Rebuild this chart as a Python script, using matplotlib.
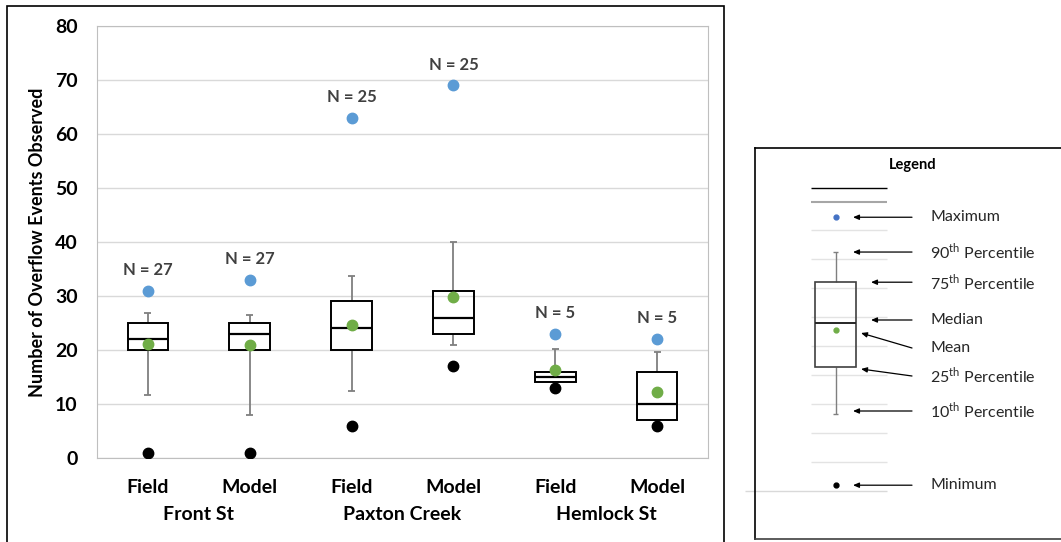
import numpy as np
import matplotlib
matplotlib.use("Agg")
import matplotlib.pyplot as plt
from matplotlib.patches import Rectangle
from matplotlib.transforms import blended_transform_factory

plt.rcParams['font.family'] = ['Lato', 'DejaVu Sans']

# data
categories = ["Field", "Model", "Field", "Model", "Field", "Model"]
groups = ["Front St", "Paxton Creek", "Hemlock St"]
p10 = [11.6, 8.0, 12.4, 20.9, 14.0, 7.0]
q1 = [20, 20, 20, 23, 14, 7]
median = [22, 23, 24, 26, 15, 10]
q3 = [25, 25, 29, 31, 16, 16]
p90 = [26.8, 26.5, 33.7, 40, 20.2, 19.7]
mins = [1, 1, 6, 17, 13, 6]
means = [21.1, 20.9, 24.7, 29.8, 16.3, 12.3]
maxs = [31, 33, 63, 69, 23, 22]
n_obs = [27, 27, 25, 25, 5, 5]

# schematic values for the legend mini box
leg_stats = {"max": 47.2, "p90": 41.2, "q3": 36.0, "median": 29.0,
             "mean": 27.8, "q1": 21.4, "p10": 13.3, "min": 1.0}
leg_grid = [0, 5, 10, 15, 20, 25, 30, 35, 40, 45]

W, H = 1061, 542
BLUE = '#5B9BD5'
GREEN = '#70AD47'
WHISK = '#7f7f7f'

fig = plt.figure(figsize=(W / 100, H / 100), dpi=100)

# outer frame of the chart
fig.add_artist(Rectangle((7 / W, -0.05), (724 - 7) / W, (H - 6) / H + 0.05,
                         transform=fig.transFigure, fill=False,
                         edgecolor='black', lw=1.2))

ax = fig.add_axes([97 / W, (H - 458) / H, (708 - 97) / W, (458 - 26) / H])
x = np.arange(len(categories))
bw = 0.4
cap = 0.035

ax.bar(x, np.array(q3) - np.array(q1), bottom=q1, width=bw, fill=False,
       edgecolor='black', lw=1.4, zorder=3)
ax.hlines(median, x - bw / 2, x + bw / 2, color='black', lw=1.6, zorder=3)
ax.vlines(x, q3, p90, color=WHISK, lw=1.3, zorder=2)
ax.vlines(x, p10, q1, color=WHISK, lw=1.3, zorder=2)
ax.hlines(p90, x - cap, x + cap, color=WHISK, lw=1.3, zorder=2)
ax.hlines(p10, x - cap, x + cap, color=WHISK, lw=1.3, zorder=2)
ax.plot(x, mins, 'o', color='black', ms=7.5, zorder=4)
ax.plot(x, means, 'o', color=GREEN, ms=7.5, zorder=4)
ax.plot(x, maxs, 'o', color=BLUE, ms=7.5, zorder=4)

for xi, m, nn in zip(x, maxs, n_obs):
    ax.annotate("N = %d" % nn, (xi, m), xytext=(0, 15), textcoords='offset points',
                ha='center', va='center', fontsize=12, fontweight='bold',
                color='#404040')

ax.set_xlim(-0.5, len(categories) - 0.5)
ax.set_ylim(0, 80)
ax.set_yticks(np.arange(0, 81, 10))
ax.set_xticks(x)
ax.set_xticklabels(categories)
ax.tick_params(axis='both', length=0, labelsize=14)
ax.tick_params(axis='y', pad=14)
ax.tick_params(axis='x', pad=15)
for lab in ax.get_xticklabels() + ax.get_yticklabels():
    lab.set_fontweight('bold')
ax.yaxis.grid(True, color='#d9d9d9', lw=1)
ax.set_axisbelow(True)
for s in ['top', 'right']:
    ax.spines[s].set_color('#bfbfbf')
    ax.spines[s].set_linestyle((0, (2, 1)))
for s in ['left', 'bottom']:
    ax.spines[s].set_color('#bfbfbf')
ax.set_ylabel("Number of Overflow Events Observed", fontsize=13, fontweight='bold')
ax.yaxis.set_label_coords(-0.084, 0.5)

trans = blended_transform_factory(ax.transData, ax.transAxes)
for i, g in enumerate(groups):
    ax.text(2 * i + 0.5, -0.13, g, transform=trans, ha='center', va='center',
            fontsize=14, fontweight='bold')

# legend panel, x in pixels, y in schematic units
lax = fig.add_axes([755 / W, (H - 539) / H, (1061 - 755) / W, (539 - 148) / H])
lax.set_xlim(755, 1061)
px = 5.8
lax.set_ylim((491 - 539) / px, (491 - 148) / px)
lax.set_xticks([])
lax.set_yticks([])
lax.spines['right'].set_visible(False)
for s in ['left', 'top', 'bottom']:
    lax.spines[s].set_color('black')
    lax.spines[s].set_linewidth(1.2)
lax.spines['bottom'].set_color('#404040')

lax.text(913, (491 - 165) / px, "Legend", ha='center', va='center',
         fontsize=10.5, fontweight='bold')
lax.hlines((491 - 188) / px, 811, 887, color='black', lw=1)
lax.hlines((491 - 202) / px, 811, 887, color='#a6a6a6', lw=1.5)
lax.hlines(leg_grid[1:], 811, 887, color='#e3e3e3', lw=1)
lax.hlines(leg_grid[0], 745, 887, color='#d9d9d9', lw=1, clip_on=False)

cx = 835.5
lax.add_patch(Rectangle((815, leg_stats["q1"]), 41, leg_stats["q3"] - leg_stats["q1"],
                        fill=False, edgecolor='#404040', lw=1.2, zorder=3))
lax.hlines(leg_stats["median"], 815, 856, color='#262626', lw=1.4, zorder=3)
lax.vlines(cx, leg_stats["q3"], leg_stats["p90"], color=WHISK, lw=1)
lax.vlines(cx, leg_stats["p10"], leg_stats["q1"], color=WHISK, lw=1)
lax.hlines([leg_stats["p90"], leg_stats["p10"]], cx - 2.5, cx + 2.5, color=WHISK, lw=1)
lax.plot(cx, leg_stats["max"], 'o', color='#4472C4', ms=3.5, zorder=4)
lax.plot(cx, leg_stats["mean"], 'o', color=GREEN, ms=3.5, zorder=4)
lax.plot(cx, leg_stats["min"], 'o', color='black', ms=3.5, zorder=4)

leg_items = [
    ("Maximum", leg_stats["max"], 853, leg_stats["max"]),
    (r"90$^{\mathregular{th}}$ Percentile", leg_stats["p90"], 853, leg_stats["p90"]),
    (r"75$^{\mathregular{th}}$ Percentile", leg_stats["q3"], 871, leg_stats["q3"]),
    ("Median", (491 - 320) / px, 871, (491 - 320) / px),
    ("Mean", (491 - 348) / px, 861, (491 - 333) / px),
    (r"25$^{\mathregular{th}}$ Percentile", (491 - 376) / px, 861, (491 - 369) / px),
    (r"10$^{\mathregular{th}}$ Percentile", (491 - 411) / px, 853, (491 - 411) / px),
    ("Minimum", leg_stats["min"], 853, leg_stats["min"]),
]
for label, ty, hx, hy in leg_items:
    lax.annotate("", xy=(hx, hy), xytext=(912, ty),
                 arrowprops=dict(arrowstyle='-|>,head_length=0.35,head_width=0.15',
                                 color='black', lw=0.9, shrinkA=0, shrinkB=0))
    lax.text(930, ty, label, ha='left', va='center', fontsize=11.5, color='#262626')

fig.savefig("out.png", dpi=100)
